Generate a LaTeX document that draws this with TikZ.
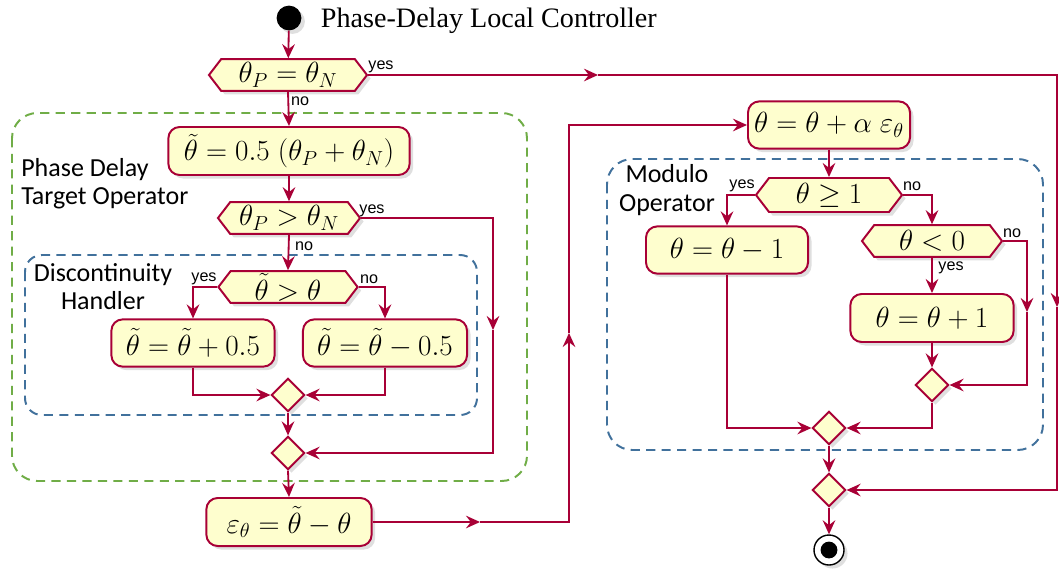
\documentclass[tikz,border=0pt]{standalone}
\usepackage{amsmath}
\usepackage{fontspec}
\setmainfont{Liberation Serif}
\newfontfamily\framefont{Carlito}
\newfontfamily\guardfont{Liberation Sans}
\usetikzlibrary{arrows.meta,shapes.geometric,shapes.symbols,shadows}
\definecolor{flowred}{HTML}{A80036}
\definecolor{actfill}{HTML}{FEFECE}
\definecolor{framegreen}{HTML}{70AD47}
\definecolor{frameblue}{HTML}{41719C}

\begin{document}
\begin{tikzpicture}[x=0.025cm,y=-0.025cm,>={Stealth[length=10pt,width=9pt,inset=3.5pt]}]
  \tikzstyle{shade}=[drop shadow={shadow xshift=2.5pt,shadow yshift=-2.5pt,opacity=0.25}]
  \tikzstyle{activity}=[rectangle,rounded corners=8pt,draw=flowred,line width=1.4pt,
                        fill=actfill,shade,minimum height=1.18cm,
                        font=\fontsize{20}{22}\selectfont]
  \tikzstyle{decision}=[signal,signal to=west and east,signal pointer angle=105,
                        draw=flowred,line width=1.4pt,fill=actfill,shade,
                        minimum height=0.79cm,inner sep=1pt,font=\fontsize{20}{22}\selectfont]
  \tikzstyle{merge}=[diamond,aspect=1,draw=flowred,line width=1.4pt,fill=actfill,shade,
                     minimum size=0.83cm,inner sep=0pt]
  \tikzstyle{flow}=[draw=flowred,line width=1.3pt,->]
  \tikzstyle{guard}=[font=\guardfont\fontsize{11.5}{12}\selectfont,inner sep=0pt]
  \tikzstyle{greenframe}=[draw=framegreen,line width=1.4pt,dash pattern=on 6.5pt off 4.5pt,
                          rounded corners=18pt]
  \tikzstyle{blueframe}=[draw=frameblue,line width=1.4pt,dash pattern=on 6.5pt off 4.5pt,
                         rounded corners=12pt]
  \tikzstyle{framelabel}=[font=\framefont\fontsize{18.5}{20}\selectfont,inner sep=0pt]

  \useasboundingbox (0,0) rectangle (1059,574);

  % dashed groups
  \draw[greenframe] (12,113) rectangle (527,481);
  \draw[blueframe] (25,255) rectangle (477,415);
  \draw[blueframe,rounded corners=18pt] (607,159) rectangle (1043,450);
  \node[framelabel,align=left,anchor=west] (pdlabel) at (21,184) {Phase Delay\\Target Operator};
  \node[framelabel,align=center] (dhlabel) at (103,287) {Discontinuity\\Handler};
  \node[framelabel,align=center] (molabel) at (667,190) {Modulo\\Operator};

  % start
  \node[circle,fill=black,minimum size=0.62cm,inner sep=0pt,shade] (start) at (289,18) {};
  \node[anchor=base west,font=\fontsize{20}{22}\selectfont] (title) at (316,27)
    {Phase-Delay Local Controller};

  % left column
  \node[decision,minimum width=3.95cm] (eqPN) at (288,75) {$\theta_P = \theta_N$};
  \node[activity,minimum width=6.03cm,minimum height=1.2cm] (target) at (289,151)
    {$\tilde{\theta} = 0.5\;(\theta_P + \theta_N)$};
  \node[decision,minimum width=3.55cm] (gtPN) at (289,218) {$\theta_P > \theta_N$};
  \node[decision,minimum width=3.48cm] (gtT) at (288,287) {$\tilde{\theta} > \theta$};
  \node[activity,minimum width=4.08cm] (plus) at (193,343) {$\tilde{\theta} = \tilde{\theta} + 0.5$};
  \node[activity,minimum width=4.1cm] (minus) at (385,343) {$\tilde{\theta} = \tilde{\theta} - 0.5$};
  \node[merge] (mergeD) at (288,395) {};
  \node[merge] (mergeT) at (288,453) {};
  \node[activity,minimum width=4.13cm,minimum height=1.2cm] (error) at (289,522)
    {$\varepsilon_\theta = \tilde{\theta} - \theta$};

  % right column
  \node[activity,minimum width=4.05cm] (update) at (829,125)
    {$\theta = \theta + \alpha\;\varepsilon_\theta$};
  \node[decision,minimum width=3.65cm,minimum height=0.85cm] (geOne) at (829,195) {$\theta \geq 1$};
  \node[activity,minimum width=4.05cm] (dec) at (727,250) {$\theta = \theta - 1$};
  \node[decision,minimum width=3.5cm] (ltZero) at (932,241) {$\theta < 0$};
  \node[activity,minimum width=4.08cm,minimum height=1.2cm] (inc) at (932,318) {$\theta = \theta + 1$};
  \node[merge] (mergeA) at (932,385) {};
  \node[merge] (mergeB) at (829,428) {};
  \node[merge] (mergeC) at (829,490) {};
  \node[circle,draw=black,line width=1pt,fill=white,minimum size=0.75cm,inner sep=0pt,shade]
    (stop) at (829,550) {};
  \fill (stop.center) circle (0.21cm);

  % guards
  \node[guard] (g1) at (381,67) {yes};
  \node[guard] (g2) at (300,101) {no};
  \node[guard] (g3) at (372,211) {yes};
  \node[guard] (g4) at (304,246) {no};
  \node[guard] (g5) at (204,279) {yes};
  \node[guard] (g6) at (369,279) {no};
  \node[guard] (g7) at (742,186) {yes};
  \node[guard] (g8) at (912,186) {no};
  \node[guard] (g9) at (1012,233) {no};
  \node[guard] (g10) at (951,268) {yes};

  % bends and mid arrows
  \coordinate (skipArrow) at (598,75);
  \coordinate (skipCorner) at (1057,75);
  \coordinate (skipDown) at (1057,307);
  \coordinate (keepDown) at (493,330);
  \coordinate (errRight) at (480,522);
  \coordinate (errUp) at (569,333);
  \coordinate (noDown) at (1027,312);

  % connectors
  \draw[flow] (start) -- (eqPN);
  \draw[flow] (eqPN.east) -- (skipArrow);
  \draw[flow] (skipArrow) -- (skipCorner) -- (skipDown);
  \draw[flow] (skipDown) |- (mergeC.east);
  \draw[flow] (eqPN.south) -- (target.north);
  \draw[flow] (target.south) -- (gtPN.north);
  \draw[flow] (gtPN.east) -| (keepDown);
  \draw[flow] (keepDown) |- (mergeT.east);
  \draw[flow] (gtPN.south) -- (gtT.north);
  \draw[flow] (gtT.west) -| (plus.north);
  \draw[flow] (gtT.east) -| (minus.north);
  \draw[flow] (plus.south) |- (mergeD.west);
  \draw[flow] (minus.south) |- (mergeD.east);
  \draw[flow] (mergeD.south) -- (mergeT.north);
  \draw[flow] (mergeT.south) -- (error.north);
  \draw[flow] (error.east) -- (errRight);
  \draw[flow] (errRight) -| (errUp);
  \draw[flow] (errUp) |- (update.west);
  \draw[flow] (update.south) -- (geOne.north);
  \draw[flow] (geOne.west) -| (dec.north);
  \draw[flow] (geOne.east) -| (ltZero.north);
  \draw[flow] (ltZero.east) -| (noDown);
  \draw[flow] (noDown) |- (mergeA.east);
  \draw[flow] (ltZero.south) -- (inc.north);
  \draw[flow] (inc.south) -- (mergeA.north);
  \draw[flow] (dec.south) |- (mergeB.west);
  \draw[flow] (mergeA.south) |- (mergeB.east);
  \draw[flow] (mergeB.south) -- (mergeC.north);
  \draw[flow] (mergeC.south) -- (stop.north);
\end{tikzpicture}
\end{document}
